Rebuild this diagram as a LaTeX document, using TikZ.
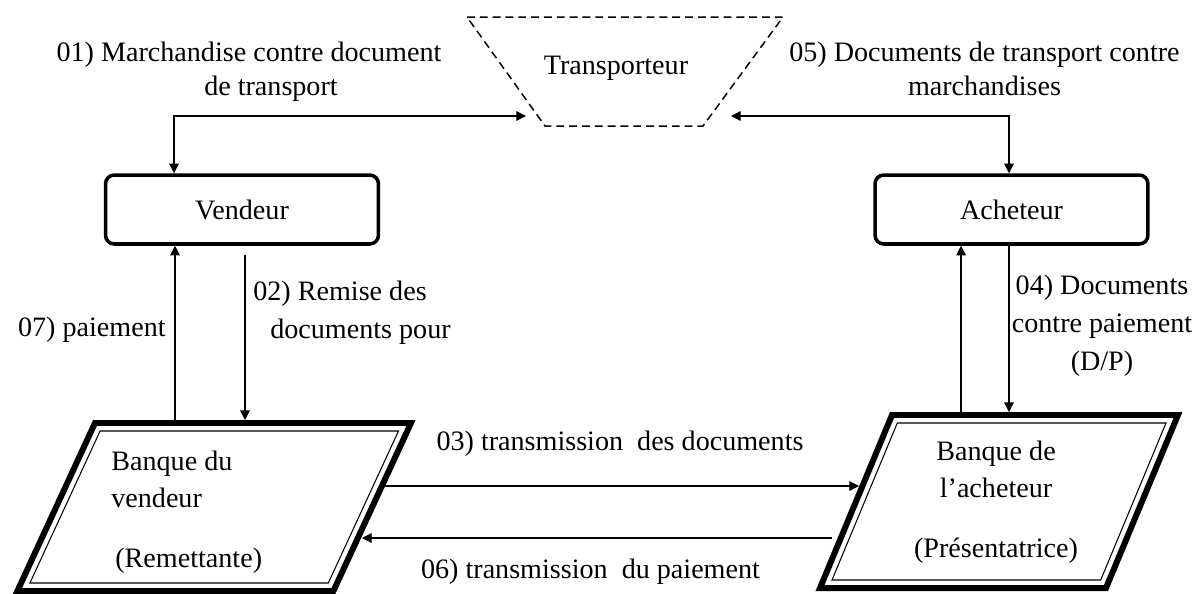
\documentclass[tikz,border=0pt]{standalone}
\usepackage{fontspec}
\setmainfont{Liberation Serif}
\usetikzlibrary{arrows.meta}

\tikzset{
    actor/.style={draw, line width=2pt, rounded corners=5pt, minimum width=5.46cm, minimum height=1.38cm, font=\fontsize{16}{19}\selectfont},
    bankout/.style={line width=3.4pt, line join=miter},
    bankin/.style={line width=0.6pt},
    carrier/.style={line width=0.85pt, dash pattern=on 4.5pt off 2.8pt},
    lbl/.style={inner sep=0pt, align=center, font=\fontsize{16}{19.3}\selectfont},
    sidelbl/.style={inner sep=0pt, font=\fontsize{16}{21.5}\selectfont},
    flow/.style={line width=0.7pt},
}

\begin{document}
\begin{tikzpicture}[x=0.02cm, y=-0.02cm, >={Triangle[length=5.5pt,width=5.5pt]}]
        \useasboundingbox (0,0) rectangle (1197,593);

        \node[actor] (vend) at (242,209.5) {Vendeur};
        \node[actor] (ach) at (1011.5,209.5) {Acheteur};

        % transporteur
        \coordinate (tr1) at (467,17);
        \coordinate (tr2) at (783,17);
        \coordinate (tr3) at (703,126);
        \coordinate (tr4) at (545,126);
        \draw[carrier] (tr1) -- (tr2) -- (tr3) -- (tr4) -- cycle;
        \node[lbl] (trans) at (616,68.5) {Transporteur};

        % banques
        \coordinate (vb1) at (95,423);
        \coordinate (vb2) at (411,423);
        \coordinate (vb3) at (333.4,591);
        \coordinate (vb4) at (17.4,591);
        \draw[bankout] (vb1) -- (vb2) -- (vb3) -- (vb4) -- cycle;
        \draw[bankin] (100.1,431) -- (398.5,431) -- (328.3,583) -- (29.9,583) -- cycle;
        \coordinate (ab1) at (892,415);
        \coordinate (ab2) at (1178,415);
        \coordinate (ab3) at (1106,588);
        \coordinate (ab4) at (820,588);
        \draw[bankout] (ab1) -- (ab2) -- (ab3) -- (ab4) -- cycle;
        \draw[bankin] (897.3,423) -- (1166,423) -- (1100.7,580) -- (832,580) -- cycle;
        \node[sidelbl, anchor=west, align=left] (vbank) at (111,512) {Banque du\\vendeur\\[12.4pt]\hspace*{0.08cm}(Remettante)};
        \node[sidelbl, align=center] (abank) at (996,502) {Banque de\\l'acheteur\\[12.4pt](Présentatrice)};

        % etiquettes
        \node[lbl] (t01) at (249,71.5) {01) Marchandise contre document\\\hspace*{0.88cm}de transport};
        \node[lbl] (t05) at (984.5,68.5) {05) Documents de transport contre\\marchandises};
        \node[sidelbl, anchor=east] (t07) at (166,329.5) {07) paiement};
        \node[sidelbl, anchor=west, align=left] (t02) at (253,312.5) {02) Remise des\\\hspace*{0.34cm}documents pour};
        \node[sidelbl, align=center] (t04) at (1102,326) {04) Documents\\contre paiement\\(D/P)};
        \node[sidelbl] (t03) at (620,443.5) {03) transmission~ des documents};
        \node[sidelbl] (t06) at (590.5,571.5) {06) transmission~ du paiement};

        % fleches
        \coordinate (in01) at (526,116);
        \coordinate (in05) at (731,116);
        \draw[<->, flow] (in01) -| ([xshift=-1.36cm]vend.north);
        \draw[<->, flow] (in05) -| ([xshift=-0.05cm]ach.north);

        \coordinate (p07) at ([xshift=-1.34cm]vend.south);
        \coordinate (p02) at ([xshift=0.06cm, yshift=-0.18cm]vend.south);
        \draw[->, flow] (p07 |- vb1) -- (p07);
        \draw[->, flow, shorten >=1.7pt] (p02) -- (p02 |- vb1);

        \coordinate (pup) at ([xshift=-1.01cm]ach.south);
        \coordinate (p04) at ([xshift=-0.05cm]ach.south);
        \draw[->, flow] (pup |- ab1) -- (pup);
        \draw[->, flow, shorten >=1.7pt] (p04) -- (p04 |- ab1);

        \coordinate (s03) at (385,486);
        \coordinate (e03) at (859,486);
        \coordinate (s06) at (832,538);
        \coordinate (e06) at (362,538);
        \draw[->, flow] (s03) -- (e03);
        \draw[->, flow] (s06) -- (e06);
\end{tikzpicture}
\end{document}
